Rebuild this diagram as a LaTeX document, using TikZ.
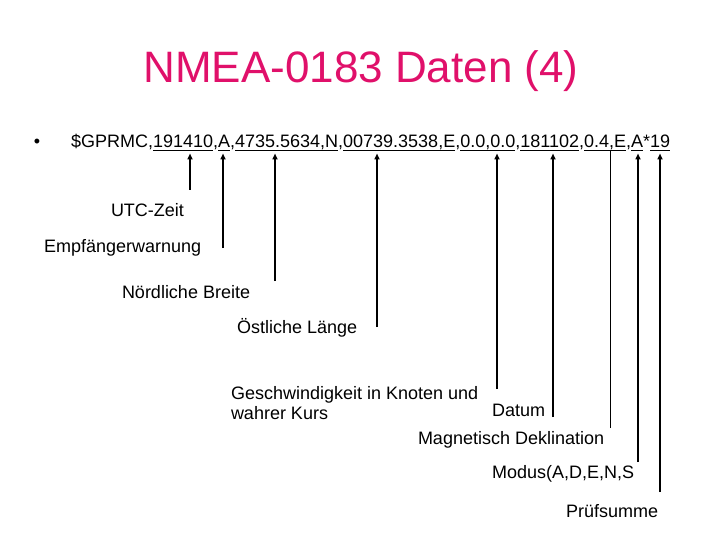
\documentclass[tikz,border=0pt]{standalone}
\usepackage{fontspec}
\setmainfont{Liberation Sans}
\usetikzlibrary{arrows.meta,positioning}
\definecolor{nmeaTitle}{HTML}{E0106A}

\begin{document}
\begin{tikzpicture}[x=1pt, y=-1pt,
      seg/.style={inner sep=0pt, outer sep=0pt, font=\fontsize{18}{21}\selectfont},
      lbl/.style={inner sep=0pt, outer sep=0pt, anchor=base west, align=left,
        font=\fontsize{18}{20.7}\selectfont},
      uline/.style={line width=1pt},
      arr/.style={-{Triangle[length=6pt, width=5pt]}, line width=1.8pt, shorten >=5.5pt},
      tick/.style={line width=0.9pt, shorten >=2.5pt}]
    \useasboundingbox (0,0) rectangle (720,540);
    \node[anchor=base, inner sep=0pt, font=\fontsize{44}{50}\selectfont, text=nmeaTitle]
      (title) at (361,83) {NMEA-0183 Daten (4)};
    \node[seg, anchor=base] (dot) at (37,148) {\textbullet};
    % the sentence, field by field
    \node[seg, anchor=base west] (head) at (71,148) {\$GPRMC,};
    \node[seg, base right=0pt of head] (utc) {191410};
    \node[seg, base right=0pt of utc] (c1) {,};
    \node[seg, base right=0pt of c1] (warn) {A};
    \node[seg, base right=0pt of warn] (c2) {,};
    \node[seg, base right=0pt of c2] (lat) {4735.5634,N};
    \node[seg, base right=0pt of lat] (c3) {,};
    \node[seg, base right=0pt of c3] (lon) {00739.3538,E};
    \node[seg, base right=0pt of lon] (c4) {,};
    \node[seg, base right=0pt of c4] (speed) {0.0,0.0};
    \node[seg, base right=0pt of speed] (c5) {,};
    \node[seg, base right=0pt of c5] (date) {181102};
    \node[seg, base right=0pt of date] (c6) {,};
    \node[seg, base right=0pt of c6] (decl) {0.4,E};
    \node[seg, base right=0pt of decl] (c7) {,};
    \node[seg, base right=0pt of c7] (mode) {A};
    \node[seg, base right=0pt of mode] (c8) {*};
    \node[seg, base right=0pt of c8] (sum) {19};
    \draw[uline] ([yshift=-2.5pt]utc.base west) -- ([yshift=-2.5pt]utc.base east);
    \draw[uline] ([yshift=-2.5pt]warn.base west) -- ([yshift=-2.5pt]warn.base east);
    \draw[uline] ([yshift=-2.5pt]lat.base west) -- ([yshift=-2.5pt]lat.base east);
    \draw[uline] ([yshift=-2.5pt]lon.base west) -- ([yshift=-2.5pt]lon.base east);
    \draw[uline] ([yshift=-2.5pt]speed.base west) -- ([yshift=-2.5pt]speed.base east);
    \draw[uline] ([yshift=-2.5pt]date.base west) -- ([yshift=-2.5pt]date.base east);
    \draw[uline] ([yshift=-2.5pt]decl.base west) -- ([yshift=-2.5pt]decl.base east);
    \draw[uline] ([yshift=-2.5pt]mode.base west) -- ([yshift=-2.5pt]mode.base east);
    \draw[uline] ([yshift=-2.5pt]sum.base west) -- ([yshift=-2.5pt]sum.base east);
    % labels
    \node[lbl] (utcLbl) at (111,217) {UTC-Zeit};
    \node[lbl] (warnLbl) at (44,252) {Empfängerwarnung};
    \node[lbl] (latLbl) at (122,298) {Nördliche Breite};
    \node[lbl] (lonLbl) at (237,333) {Östliche Länge};
    \node[lbl] (speedLbl) at (231,419.7) {Geschwindigkeit in Knoten und\\wahrer Kurs};
    \node[lbl] (dateLbl) at (492,416) {Datum};
    \node[lbl] (declLbl) at (418,444) {Magnetisch Deklination};
    \node[lbl] (modeLbl) at (492,478) {Modus(A,D,E,N,S};
    \node[lbl] (sumLbl) at (566,517) {Prüfsumme};
    % pointers
    \coordinate (utcEnd) at (190,190);
    \coordinate (warnEnd) at (223,248);
    \coordinate (latEnd) at (275,281);
    \coordinate (lonEnd) at (377,327);
    \coordinate (speedEnd) at (497,389);
    \coordinate (dateEnd) at (553,417);
    \coordinate (declEnd) at (610,428);
    \coordinate (modeEnd) at (638,462);
    \coordinate (sumEnd) at (660,492);
    \draw[arr] (utcEnd) -- (utcEnd |- utc.base);
    \draw[arr] (warnEnd) -- (warnEnd |- warn.base);
    \draw[arr] (latEnd) -- (latEnd |- lat.base);
    \draw[arr] (lonEnd) -- (lonEnd |- lon.base);
    \draw[arr] (speedEnd) -- (speedEnd |- speed.base);
    \draw[arr] (dateEnd) -- (dateEnd |- date.base);
    \draw[tick] (declEnd) -- (declEnd |- decl.base);
    \draw[arr] (modeEnd) -- (modeEnd |- mode.base);
    \draw[arr] (sumEnd) -- (sumEnd |- sum.base);
  \end{tikzpicture}
\end{document}
